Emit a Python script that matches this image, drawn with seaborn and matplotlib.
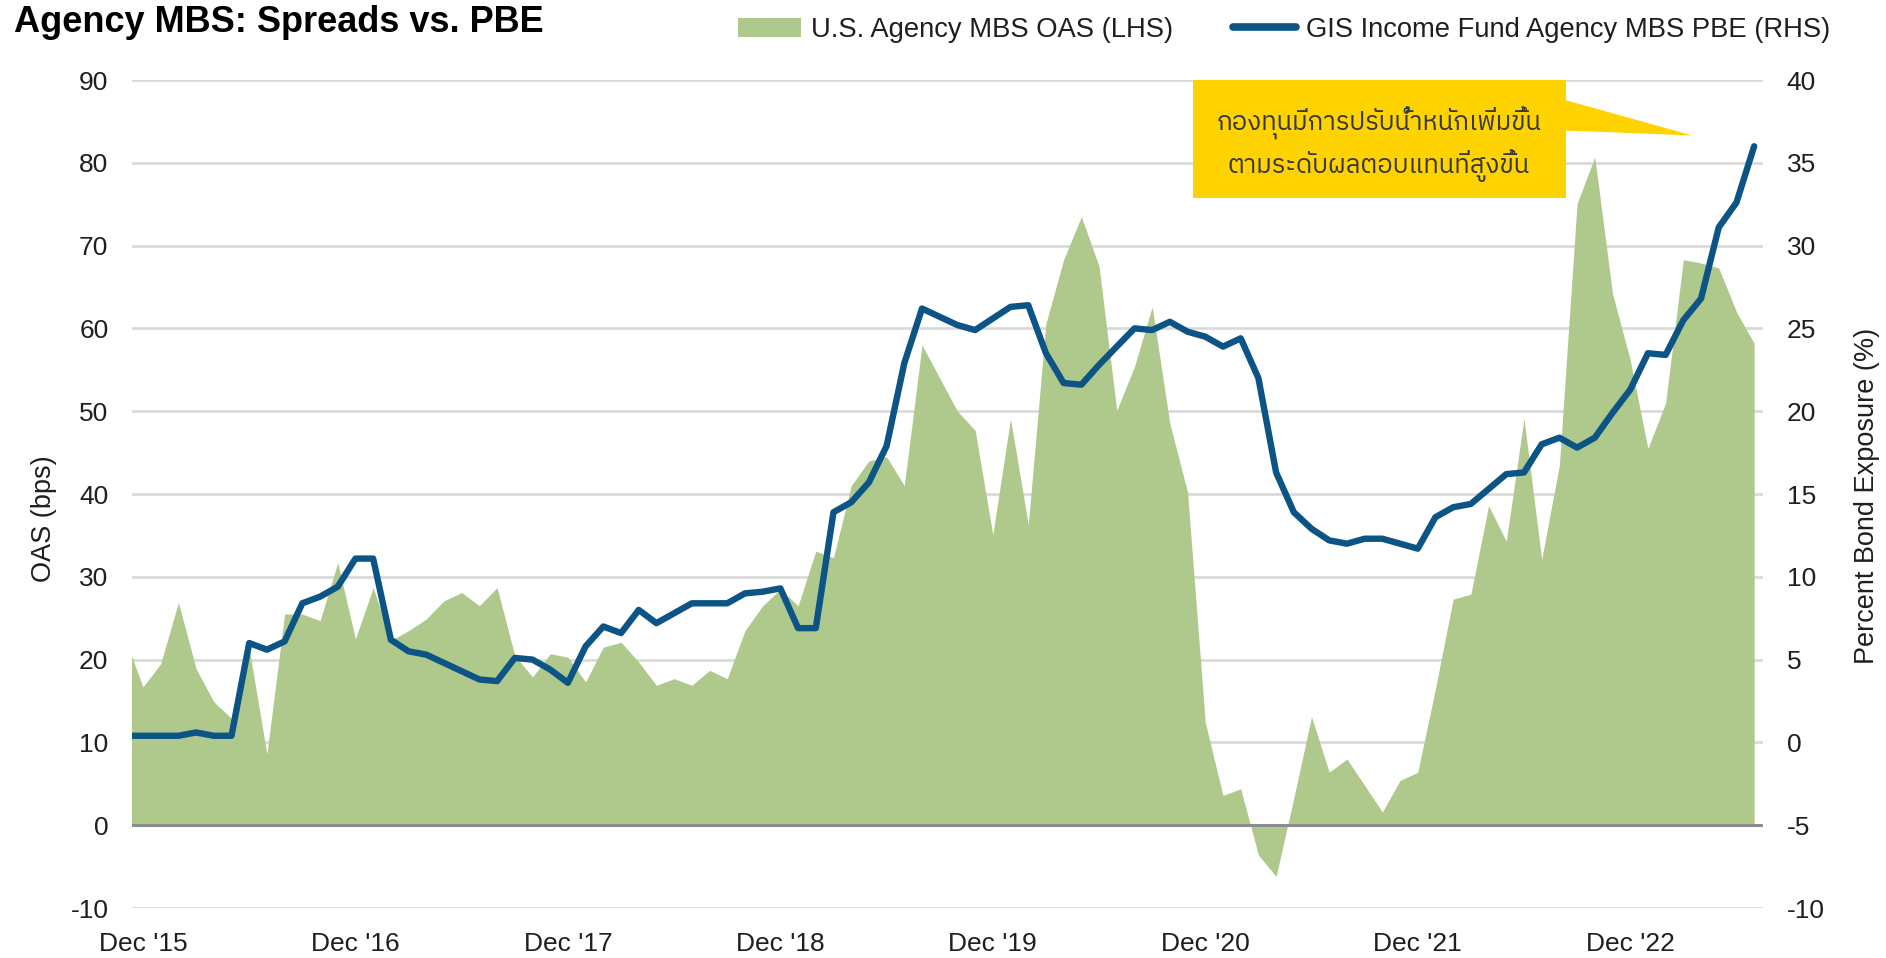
import numpy as np
import pandas as pd
import matplotlib
matplotlib.use("Agg")
import matplotlib.pyplot as plt
import seaborn as sns
from matplotlib import font_manager as fm
from matplotlib.ft2font import FT2Font
from matplotlib.patches import Rectangle, Polygon, Patch
from matplotlib.lines import Line2D

# monthly data, Nov 2015 .. Jul 2023
months = pd.period_range("2015-11", "2023-07", freq="M")

# U.S. Agency MBS OAS, bps (left axis)
oas = [22.5, 16.7, 19.5, 26.9, 18.9, 14.9, 12.9, 21.3, 8.6, 25.5, 25.5, 24.7,
       31.7, 22.5, 28.7, 22.3, 23.5, 24.9, 27.1, 28.1, 26.5, 28.7, 20.5, 17.9,
       20.7, 20.3, 17.3, 21.5, 22.1, 19.7, 16.9, 17.7, 16.9, 18.7, 17.7, 23.5,
       26.5, 28.5, 26.5, 33.1, 32.3, 41.0, 44.0, 44.5, 41.0, 58.0, 54.0, 50.0,
       47.7, 35.1, 49.1, 36.3, 60.6, 68.3, 73.5, 67.5, 50.1, 55.4, 62.6, 48.5,
       40.2, 12.4, 3.6, 4.4, -3.6, -6.2, 3.3, 13.1, 6.4, 8.0, 4.8, 1.6,
       5.4, 6.4, 16.5, 27.3, 27.9, 38.6, 34.3, 49.1, 32.1, 43.5, 75.1, 80.7,
       64.2, 56.2, 45.5, 51.0, 68.3, 67.9, 67.3, 62.0, 58.2]

# GIS Income Fund Agency MBS PBE, % (right axis)
pbe = [0.4, 0.4, 0.4, 0.4, 0.6, 0.4, 0.4, 6.0, 5.6, 6.1, 8.4, 8.8,
       9.4, 11.1, 11.1, 6.2, 5.5, 5.3, 4.8, 4.3, 3.8, 3.7, 5.1, 5.0,
       4.4, 3.6, 5.8, 7.0, 6.6, 8.0, 7.2, 7.8, 8.4, 8.4, 8.4, 9.0,
       9.1, 9.3, 6.9, 6.9, 13.9, 14.5, 15.7, 17.9, 22.9, 26.2, 25.7, 25.2,
       24.9, 25.6, 26.3, 26.4, 23.5, 21.7, 21.6, 22.8, 23.9, 25.0, 24.9, 25.4,
       24.8, 24.5, 23.9, 24.4, 22.0, 16.3, 13.9, 12.9, 12.2, 12.0, 12.3, 12.3,
       12.0, 11.7, 13.6, 14.2, 14.4, 15.3, 16.2, 16.3, 18.0, 18.4, 17.8, 18.4,
       19.9, 21.3, 23.5, 23.4, 25.5, 26.8, 31.1, 32.6, 36.0]

oas_ticks = list(range(-10, 91, 10))
pbe_ticks = list(range(-10, 41, 5))

title = "Agency MBS: Spreads vs. PBE"
oas_label = "U.S. Agency MBS OAS (LHS)"
pbe_label = "GIS Income Fund Agency MBS PBE (RHS)"
note = "กองทุนมีการปรับน้ำหนักเพิ่มขึ้น\nตามระดับผลตอบแทนที่สูงขึ้น"

GREEN = "#AFC98D"
NAVY = "#0B5485"
YELLOW = "#FFD300"
TXT = "#1f1f1f"


def thai_font():
    # pick an installed family that can draw Thai
    best = None
    for f in fm.fontManager.ttflist:
        try:
            cmap = FT2Font(f.fname).get_charmap()
        except Exception:
            continue
        if 0x0E01 in cmap:
            score = (("Thai" in f.name) * 2 + (f.weight in (400, "normal", "regular")))
            if best is None or score > best[0]:
                best = (score, f.name)
    return best[1] if best else "DejaVu Sans"


df = pd.DataFrame({"pos": np.arange(len(months)), "oas": oas, "pbe": pbe})

sns.set_theme(style="white")
plt.rcParams["font.family"] = ["Liberation Sans", "DejaVu Sans"]
plt.rcParams["axes.unicode_minus"] = False

W, H = 1886, 958
fig = plt.figure(figsize=(W / 100, H / 100), dpi=100)
ax = fig.add_axes([132 / W, 1 - 908 / H, (1763 - 132) / W, (908 - 80) / H])

ax.fill_between(df["pos"], df["oas"], 0, color=GREEN, lw=0, zorder=2)
ax.axhline(0, color="#8c8c8c", lw=2.2, zorder=3)
ax.set_ylim(-10, 90)
ax.set_yticks(oas_ticks)
ax.yaxis.grid(True, color="#dadada", lw=2)
ax.set_axisbelow(True)

dec = months.month == 12
ax.set_xticks(df["pos"][dec], [f"Dec '{p.year % 100:02d}" for p in months[dec]])
ax.tick_params(axis="both", length=0, labelsize=19, colors=TXT)
ax.tick_params(axis="y", pad=17)
ax.tick_params(axis="x", pad=17)
ax.set_ylabel("OAS (bps)", fontsize=19.5, color=TXT)
ax.yaxis.set_label_coords(-0.046, 0.47)

ax2 = ax.twinx()
sns.lineplot(data=df, x="pos", y="pbe", ax=ax2, color=NAVY, lw=4.6,
             legend=False, zorder=5)
ax2.set_ylim(-10, 40)
ax2.set_yticks(pbe_ticks)
ax2.tick_params(axis="y", length=0, labelsize=19, colors=TXT, pad=17)
ax2.set_xlabel("")
ax2.set_ylabel("Percent Bond Exposure (%)", fontsize=19.5, color=TXT,
               rotation=90)
ax2.yaxis.set_label_coords(1.056, 0.4976)
ax.set_xlim(0.38, 92.5)
ax.set_xlabel("")

for a in (ax, ax2):
    for s in a.spines.values():
        s.set_visible(False)

# callout box
ax2.add_patch(Rectangle((60.3, 32.9), 21.1, 7.1, facecolor=YELLOW,
                        edgecolor="none", zorder=6, clip_on=False))
ax2.add_patch(Polygon([(81.3, 38.8), (88.5, 36.65), (81.3, 36.95)],
                      closed=True, facecolor=YELLOW, edgecolor="none",
                      zorder=6, clip_on=False))
ax2.text(70.8, 36.1, note, ha="center", va="center", fontsize=18.5,
         family=[thai_font(), "DejaVu Sans"], color="#383838",
         linespacing=1.4, zorder=7)

fig.text(14 / W, 1 - 22 / H, title, fontsize=26, fontweight="bold",
         ha="left", va="center", color="black")

handles = [Patch(facecolor=GREEN, edgecolor="none"),
           Line2D([], [], color=NAVY, lw=5.5)]
fig.legend(handles, [oas_label, pbe_label], loc="center",
           bbox_to_anchor=(1284 / W, 1 - 30 / H), ncol=2, frameon=False,
           fontsize=19.7, handlelength=2.3, handleheight=0.7,
           handletextpad=0.35, columnspacing=2.2, borderaxespad=0,
           borderpad=0, labelcolor=TXT)

fig.savefig("out.png", dpi=100)
